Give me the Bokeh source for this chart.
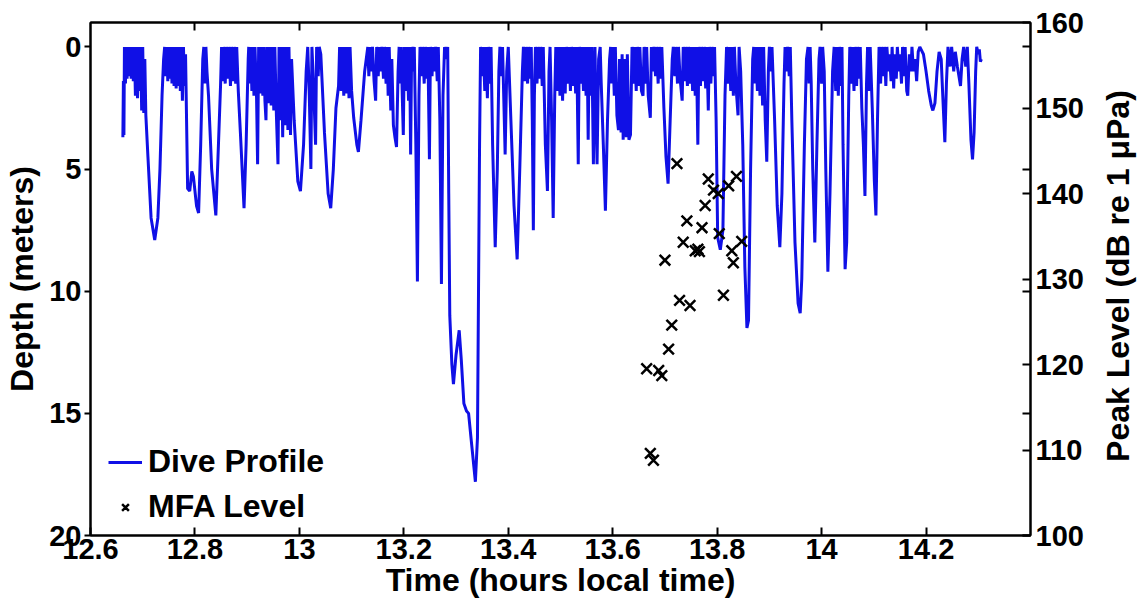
import math
from bokeh.plotting import figure
from bokeh.layouts import row
from bokeh.models import (Range1d, LinearAxis, FixedTicker, CustomJSTickFormatter,
                          Legend, LegendItem)
from bokeh.core.properties import value
from bokeh.embed import file_html
from bokeh.resources import INLINE

# ---------------- data ----------------
x_ticks = [12.6, 12.8, 13.0, 13.2, 13.4, 13.6, 13.8, 14.0, 14.2]
depth_ticks = [0, 5, 10, 15, 20]
peak_ticks = [100, 110, 120, 130, 140, 150, 160]

dive_time = [
    12.662, 12.663, 12.664, 12.665, 12.667, 12.668, 12.670, 12.672, 12.674, 12.676,
    12.678, 12.680, 12.682, 12.684, 12.686, 12.688, 12.690, 12.692, 12.694, 12.696,
    12.698, 12.700, 12.702, 12.704, 12.706, 12.710, 12.716, 12.723, 12.729, 12.733,
    12.737, 12.740, 12.742, 12.744, 12.746, 12.748, 12.750, 12.752, 12.754, 12.756,
    12.758, 12.760, 12.762, 12.764, 12.766, 12.768, 12.770, 12.772, 12.774, 12.776,
    12.778, 12.780, 12.782, 12.786, 12.790, 12.794, 12.797, 12.803, 12.807, 12.811,
    12.815, 12.817, 12.819, 12.821, 12.823, 12.826, 12.832, 12.840, 12.845, 12.849,
    12.851, 12.853, 12.855, 12.858, 12.860, 12.863, 12.865, 12.868, 12.870, 12.873,
    12.875, 12.878, 12.880, 12.883, 12.887, 12.894, 12.898, 12.902, 12.903, 12.905,
    12.907, 12.909, 12.911, 12.913, 12.915, 12.918, 12.920, 12.922, 12.925, 12.927,
    12.930, 12.932, 12.934, 12.936, 12.938, 12.941, 12.943, 12.946, 12.948, 12.951,
    12.953, 12.956, 12.959, 12.961, 12.964, 12.966, 12.968, 12.970, 12.973, 12.975,
    12.978, 12.980, 12.983, 12.985, 12.990, 12.997, 13.002, 13.008, 13.013, 13.016,
    13.019, 13.022, 13.024, 13.027, 13.031, 13.033, 13.036, 13.038, 13.041, 13.048,
    13.055, 13.060, 13.065, 13.070, 13.075, 13.077, 13.080, 13.082, 13.085, 13.087,
    13.090, 13.092, 13.095, 13.097, 13.100, 13.104, 13.110, 13.113, 13.118, 13.125,
    13.131, 13.133, 13.135, 13.138, 13.140, 13.143, 13.146, 13.148, 13.151, 13.153,
    13.156, 13.158, 13.161, 13.163, 13.166, 13.168, 13.170, 13.172, 13.175, 13.177,
    13.180, 13.183, 13.186, 13.189, 13.191, 13.193, 13.195, 13.197, 13.199, 13.201,
    13.204, 13.206, 13.209, 13.211, 13.213, 13.215, 13.218, 13.220, 13.223, 13.226,
    13.229, 13.231, 13.234, 13.236, 13.239, 13.241, 13.244, 13.246, 13.249, 13.251,
    13.254, 13.256, 13.259, 13.261, 13.264, 13.266, 13.269, 13.272, 13.275, 13.278,
    13.281, 13.284, 13.286, 13.288, 13.292, 13.295, 13.300, 13.306, 13.310, 13.315,
    13.320, 13.324, 13.330, 13.337, 13.341, 13.343, 13.345, 13.347, 13.350, 13.352,
    13.355, 13.357, 13.360, 13.362, 13.365, 13.367, 13.370, 13.375, 13.379, 13.382,
    13.384, 13.387, 13.389, 13.394, 13.397, 13.400, 13.405, 13.411, 13.417, 13.422,
    13.427, 13.429, 13.432, 13.434, 13.437, 13.439, 13.442, 13.444, 13.446, 13.448,
    13.450, 13.452, 13.455, 13.457, 13.460, 13.462, 13.465, 13.467, 13.471, 13.475,
    13.478, 13.480, 13.483, 13.486, 13.489, 13.491, 13.494, 13.496, 13.499, 13.501,
    13.504, 13.506, 13.509, 13.511, 13.514, 13.516, 13.519, 13.521, 13.524, 13.526,
    13.529, 13.531, 13.534, 13.536, 13.539, 13.541, 13.544, 13.546, 13.549, 13.551,
    13.553, 13.555, 13.558, 13.560, 13.563, 13.566, 13.568, 13.570, 13.573, 13.576,
    13.578, 13.582, 13.586, 13.590, 13.594, 13.596, 13.598, 13.600, 13.603, 13.605,
    13.608, 13.611, 13.613, 13.616, 13.618, 13.620, 13.623, 13.626, 13.628, 13.631,
    13.634, 13.637, 13.640, 13.642, 13.645, 13.647, 13.650, 13.652, 13.655, 13.658,
    13.660, 13.663, 13.665, 13.668, 13.672, 13.674, 13.677, 13.679, 13.682, 13.684,
    13.687, 13.689, 13.692, 13.694, 13.698, 13.702, 13.706, 13.710, 13.714, 13.716,
    13.719, 13.721, 13.724, 13.726, 13.729, 13.733, 13.735, 13.738, 13.740, 13.743,
    13.745, 13.748, 13.750, 13.753, 13.755, 13.758, 13.760, 13.763, 13.765, 13.768,
    13.770, 13.773, 13.775, 13.778, 13.780, 13.783, 13.785, 13.788, 13.790, 13.793,
    13.795, 13.798, 13.801, 13.806, 13.811, 13.815, 13.818, 13.821, 13.823, 13.826,
    13.828, 13.831, 13.833, 13.836, 13.840, 13.842, 13.845, 13.849, 13.853, 13.857,
    13.860, 13.864, 13.868, 13.870, 13.872, 13.874, 13.877, 13.879, 13.882, 13.884,
    13.887, 13.889, 13.892, 13.895, 13.898, 13.900, 13.903, 13.905, 13.910, 13.915,
    13.920, 13.924, 13.928, 13.930, 13.933, 13.935, 13.938, 13.940, 13.943, 13.949,
    13.955, 13.959, 13.962, 13.967, 13.971, 13.974, 13.976, 13.978, 13.980, 13.983,
    13.987, 13.991, 13.995, 13.997, 14.000, 14.002, 14.005, 14.008, 14.012, 14.016,
    14.021, 14.024, 14.027, 14.029, 14.032, 14.034, 14.037, 14.039, 14.041, 14.045,
    14.048, 14.052, 14.054, 14.057, 14.059, 14.062, 14.064, 14.067, 14.069, 14.072,
    14.074, 14.077, 14.080, 14.083, 14.086, 14.088, 14.091, 14.093, 14.097, 14.101,
    14.104, 14.107, 14.110, 14.113, 14.115, 14.118, 14.120, 14.123, 14.125, 14.128,
    14.130, 14.133, 14.135, 14.138, 14.140, 14.143, 14.145, 14.148, 14.150, 14.153,
    14.155, 14.158, 14.160, 14.163, 14.165, 14.168, 14.171, 14.173, 14.176, 14.179,
    14.182, 14.185, 14.188, 14.195, 14.200, 14.205, 14.210, 14.213, 14.217, 14.221,
    14.225, 14.229, 14.232, 14.236, 14.239, 14.242, 14.246, 14.249, 14.253, 14.256,
    14.260, 14.263, 14.266, 14.269, 14.272, 14.276, 14.279, 14.282, 14.286, 14.289,
    14.292, 14.295, 14.297, 14.300, 14.302, 14.304, 14.306,
]

dive_depth = [
    3.7, 1.4, 3.6, 0, 1.5, 0, 1.3, 0, 1.2, 0,
    1.3, 0, 1.4, 0, 2.0, 0, 2.1, 0, 1.8, 0,
    2.6, 0, 2.7, 0.5, 2.8, 4.5, 7.0, 7.9, 7.0, 5.0,
    2.0, 0.5, 0, 1.2, 0, 1.4, 0, 1.3, 0, 1.5,
    0, 1.6, 0, 1.7, 0, 1.6, 0, 1.8, 0, 2.2,
    0, 1.6, 0.3, 5.8, 5.9, 5.1, 5.3, 6.5, 6.8, 4.0,
    0.5, 0, 1.5, 0, 1.0, 2.0, 5.0, 6.9, 4.0, 1.6,
    0, 1.4, 0, 1.5, 0, 1.3, 0, 1.6, 0, 1.4,
    0, 1.5, 0, 1.8, 3.5, 6.6, 4.0, 0.5, 0, 1.5,
    0, 1.8, 0, 2.0, 0, 2.1, 4.8, 0, 1.9, 0,
    2.0, 0, 2.2, 3.0, 0, 2.3, 0, 2.4, 0, 2.6,
    0, 2.8, 4.8, 0, 3.0, 0, 3.7, 0, 3.2, 0,
    3.4, 0, 3.6, 0.5, 3.0, 5.5, 5.9, 4.0, 1.0, 0,
    2.0, 5.0, 0, 1.5, 4.0, 0, 1.2, 0, 0.3, 3.5,
    6.0, 6.6, 5.0, 2.5, 1.6, 0, 1.8, 0, 2.0, 0,
    1.9, 0, 2.1, 0, 1.8, 2.9, 4.0, 4.3, 3.0, 1.0,
    0, 1.2, 0, 1.0, 0, 1.4, 2.2, 0, 1.2, 0,
    1.0, 0, 1.3, 0, 1.5, 0, 2.0, 0, 2.6, 0.5,
    3.2, 3.7, 4.1, 1.0, 0, 1.5, 0, 2.0, 3.6, 0,
    1.8, 0, 2.2, 0, 4.4, 0, 1.0, 0, 4.0, 9.6,
    2.0, 0, 1.2, 0, 1.5, 0, 1.3, 0, 4.6, 0,
    1.2, 0, 1.0, 0, 1.4, 0, 3.0, 9.7, 2.0, 0,
    0.5, 0, 6.0, 11.0, 13.0, 13.8, 12.6, 11.6, 12.8, 14.6,
    14.9, 15.0, 16.3, 17.8, 16.0, 10.0, 4.0, 0, 1.2, 0,
    1.8, 0, 2.1, 0, 1.5, 0, 4.0, 8.2, 5.0, 1.0,
    0, 1.2, 0, 4.4, 1.0, 0, 3.0, 6.5, 8.7, 5.0,
    1.0, 0, 1.4, 0, 1.5, 0, 1.3, 0, 3.0, 7.5,
    2.0, 0, 1.5, 0, 1.3, 0, 1.6, 0, 4.0, 5.9,
    1.0, 0, 3.0, 7.0, 2.0, 0, 1.8, 0, 2.0, 0,
    2.2, 0, 1.9, 0, 1.5, 0, 1.8, 0, 1.6, 0,
    1.9, 0, 4.8, 0, 1.5, 0, 1.8, 0, 2.0, 0,
    3.8, 0, 2.0, 0, 4.8, 0, 2.5, 4.8, 0.5, 0,
    1.5, 4.0, 6.7, 3.0, 0.5, 0, 1.5, 0, 2.0, 0,
    2.8, 3.4, 0.5, 3.5, 0.3, 3.8, 0.5, 3.7, 0.3, 3.8,
    3.6, 0, 1.5, 0, 1.8, 0, 1.6, 0, 1.8, 2.0,
    0, 1.5, 0, 2.0, 2.9, 0, 1.0, 0, 1.2, 0,
    1.5, 0, 1.3, 0, 2.5, 4.5, 5.6, 3.0, 0.5, 0,
    1.2, 0, 1.5, 0, 1.3, 2.2, 0, 1.4, 0, 1.6,
    0, 1.5, 0, 1.8, 0, 2.0, 0, 4.0, 0, 1.6,
    0, 1.4, 0, 1.7, 0, 2.6, 0, 1.5, 0, 1.2,
    0, 3.0, 7.8, 8.3, 7.5, 2.0, 0, 1.5, 0, 1.8,
    0, 2.0, 0, 1.6, 2.8, 0, 1.0, 4.0, 9.0, 11.5,
    11.2, 5.0, 0.5, 0, 1.5, 0, 1.8, 0, 2.0, 0,
    2.4, 0, 3.0, 4.7, 1.0, 0, 1.0, 0, 3.0, 6.5,
    8.2, 6.0, 1.5, 0, 1.0, 0, 1.2, 0, 3.0, 8.0,
    10.5, 10.9, 9.5, 4.0, 0.5, 0, 1.5, 0, 1.4, 5.0,
    8.0, 4.0, 0.5, 0, 1.5, 0, 1.0, 5.0, 9.2, 6.0,
    1.0, 0, 1.8, 0, 2.0, 0, 1.6, 0, 4.0, 9.1,
    8.0, 2.0, 0, 1.5, 0, 1.8, 0, 1.6, 0, 1.3,
    0, 2.5, 4.0, 6.1, 1.5, 0, 1.8, 0, 2.5, 5.5,
    6.9, 3.0, 0, 1.5, 0, 1.2, 0, 1.6, 0, 1.0,
    0.3, 1.4, 0, 1.7, 0.3, 1.3, 0, 1.0, 0.3, 1.5,
    0, 1.2, 0, 1.8, 2.0, 0.3, 1.0, 0, 1.0, 0.5,
    1.4, 0.2, 0, 0.3, 1.0, 1.8, 2.4, 2.6, 2.3, 1.0,
    0.2, 0.5, 2.0, 3.9, 1.5, 0, 0.8, 0, 1.0, 0.2,
    0.8, 1.2, 1.6, 0.5, 0, 0.8, 0, 1.5, 3.8, 4.6,
    3.5, 1.0, 0, 0.3, 0.1, 0.6, 0.5,
]
assert len(dive_time) == len(dive_depth), (len(dive_time), len(dive_depth))

mfa_time = [13.723, 13.783, 13.837, 13.793, 13.822, 13.802, 13.777, 13.742, 13.771, 13.735,
            13.758, 13.763, 13.766, 13.804, 13.847, 13.828, 13.831, 13.700, 13.812, 13.728,
            13.748, 13.713, 13.707, 13.665, 13.688, 13.694, 13.672, 13.678]
mfa_level = [143.5, 141.7, 142.0, 140.4, 140.9, 140.0, 138.6, 136.8, 136.0, 134.3,
             133.3, 133.5, 133.2, 135.3, 134.4, 133.3, 131.9, 132.2, 128.1, 127.5,
             126.9, 124.6, 121.8, 119.5, 119.3, 118.7, 109.6, 108.8]

# ---------------- layout constants ----------------
FONT = "Liberation Sans"
TICK_SIZE = "29px"
LABEL_SIZE = "32px"
TOTAL_W, TOTAL_H = 1144, 612
SIDE_W = 44                       # strip holding the right-hand axis title
MAIN_W = TOTAL_W - SIDE_W
BORDER_L, BORDER_T, BORDER_B = 90, 22, 77
FRAME_RIGHT = 1030                # right edge of the plot frame, px
SIDE_TITLE_SHIFT = 24             # nudge of the right-hand title down the strip, px

depth_bottom, depth_top = 20, -1
peak_lo, peak_hi = 100, 160

p = figure(width=MAIN_W, height=TOTAL_H, output_backend="svg", toolbar_location=None,
           x_range=Range1d(12.6, 14.4), y_range=Range1d(depth_bottom, depth_top),
           min_border_left=BORDER_L, min_border_right=MAIN_W - FRAME_RIGHT,
           min_border_top=BORDER_T, min_border_bottom=BORDER_B)
p.extra_y_ranges = {"peak": Range1d(peak_lo, peak_hi)}
p.xgrid.visible = False
p.ygrid.visible = False
p.outline_line_color = "black"
p.outline_line_width = 2
p.background_fill_color = "white"
p.border_fill_color = "white"


def style_axis(ax):
    ax.axis_line_color = "black"
    ax.axis_line_width = 2
    ax.major_tick_line_color = "black"
    ax.major_tick_line_width = 2
    ax.minor_tick_line_color = None
    ax.major_label_text_font = FONT
    ax.major_label_text_font_style = "bold"
    ax.major_label_text_font_size = TICK_SIZE
    ax.major_label_text_color = "black"
    ax.axis_label_text_font = FONT
    ax.axis_label_text_font_style = "bold"
    ax.axis_label_text_font_size = LABEL_SIZE
    ax.axis_label_text_color = "black"


# bottom axis
xb = p.xaxis[0]
style_axis(xb)
xb.ticker = FixedTicker(ticks=x_ticks)
xb.formatter = CustomJSTickFormatter(code="return (Math.round(tick*10)/10).toString();")
xb.axis_label = "Time (hours local time)"
xb.major_tick_in = 8
xb.major_tick_out = 0
xb.major_label_standoff = 3
xb.axis_label_standoff = 0

# left axis (depth)
yl = p.yaxis[0]
style_axis(yl)
yl.ticker = FixedTicker(ticks=depth_ticks)
yl.axis_label = "Depth (meters)"
yl.major_tick_in = 0
yl.major_tick_out = 6
yl.major_label_standoff = 3
yl.axis_label_standoff = 6

# top axis (mirrored ticks only, no labels)
xt = LinearAxis(ticker=FixedTicker(ticks=x_ticks[1:]))
style_axis(xt)
xt.major_label_text_color = None
xt.major_label_text_font_size = "1px"
xt.major_label_standoff = 0
xt.major_tick_in = 8
xt.major_tick_out = 0
p.add_layout(xt, "above")

# right axis (peak level) with mirrored depth ticks as minor ticks
depth_on_peak = [peak_lo + (depth_bottom - d) * (peak_hi - peak_lo) / (depth_bottom - depth_top)
                 for d in depth_ticks]
yr = LinearAxis(y_range_name="peak",
                ticker=FixedTicker(ticks=peak_ticks, minor_ticks=depth_on_peak))
style_axis(yr)
yr.minor_tick_line_color = "black"
yr.minor_tick_line_width = 2
yr.minor_tick_in = 8
yr.minor_tick_out = 0
yr.major_tick_in = 8
yr.major_tick_out = 0
yr.major_label_standoff = 5
p.add_layout(yr, "right")

# ---------------- glyphs ----------------
line_r = p.line(dive_time, dive_depth, line_width=3, color="#1010e6")
scat_r = p.scatter(mfa_time, mfa_level, marker="x", size=15, line_width=2.5,
                   color="black", y_range_name="peak")

legend = Legend(items=[LegendItem(label="Dive Profile", renderers=[line_r]),
                       LegendItem(label="MFA Level", renderers=[scat_r])],
                location=(18, 10), border_line_color=None, background_fill_alpha=0,
                label_text_font=FONT, label_text_font_style="bold",
                label_text_font_size=LABEL_SIZE, label_text_color="black",
                glyph_width=34, glyph_height=24, label_standoff=6, spacing=8,
                padding=6, margin=0)
p.add_layout(legend)

# ---------------- strip with the right-hand axis title (reads bottom-to-top) ----------------
side = figure(width=SIDE_W, height=TOTAL_H, output_backend="svg", toolbar_location=None,
              x_range=Range1d(0, SIDE_W), y_range=Range1d(0, TOTAL_H),
              x_axis_location=None, y_axis_location=None,
              min_border=0, outline_line_color=None)
side.grid.visible = False
side.background_fill_color = "white"
side.border_fill_color = "white"
frame_mid = TOTAL_H - (BORDER_T + (TOTAL_H - BORDER_T - BORDER_B) / 2)
side.text(x=[SIDE_W / 2 - 5], y=[frame_mid - SIDE_TITLE_SHIFT],
          text=["Peak Level (dB re 1 \u03bcPa)"],
          angle=math.pi / 2, text_align="center", text_baseline="middle",
          text_font=value(FONT), text_font_style="bold", text_font_size=LABEL_SIZE,
          text_color="black")

layout = row(p, side, spacing=0)
open("out.html", "w").write(file_html(layout, INLINE))
